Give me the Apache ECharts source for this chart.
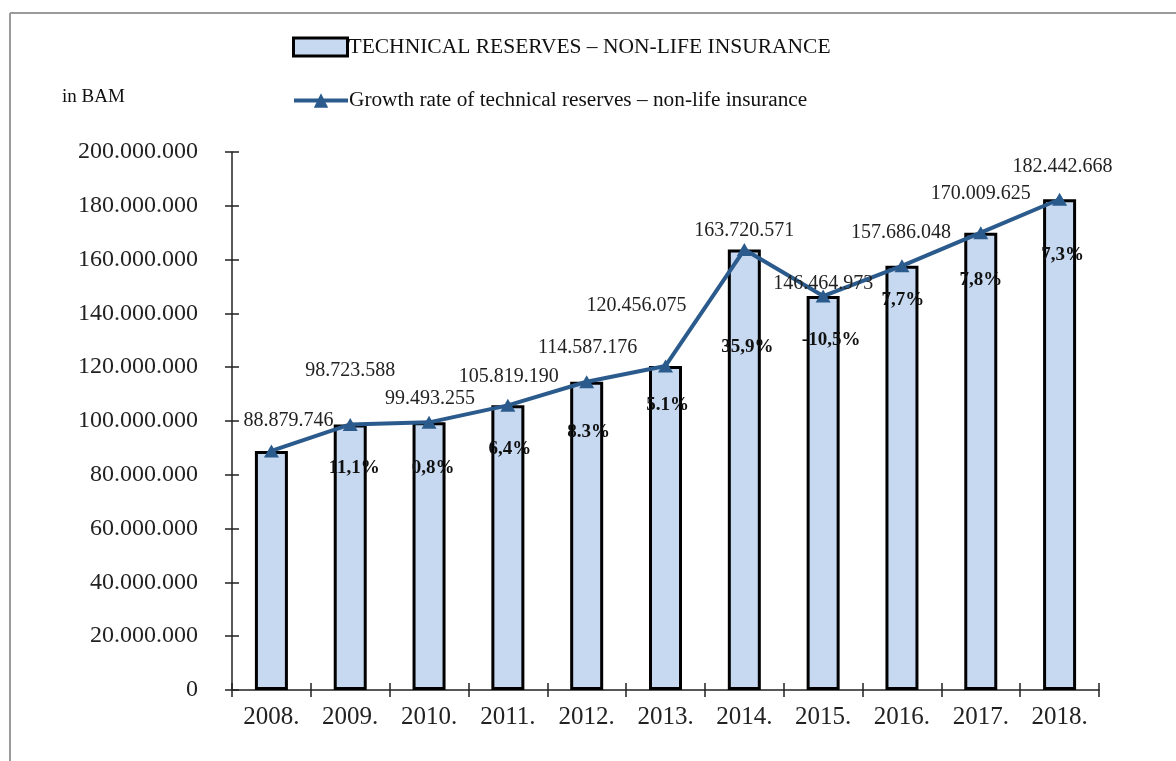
<!DOCTYPE html>
<html>
<head>
<meta charset="utf-8">
<script src="https://cdn.jsdelivr.net/npm/echarts@6/dist/echarts.min.js"></script>
<style>
  html, body { margin: 0; padding: 0; background: #fff; }
  #chart { width: 1176px; height: 761px; }
</style>
</head>
<body>
<div id="chart"></div>
<script>
// Non-life technical reserves, in BAM
const years = ['2008.', '2009.', '2010.', '2011.', '2012.', '2013.', '2014.', '2015.', '2016.', '2017.', '2018.'];
const reserves = [88879746, 98723588, 99493255, 105819190, 114587176, 120456075, 163720571, 146464973, 157686048, 170009625, 182442668];
const growthLabels = ['', '11,1%', '0,8%', '6,4%', '8.3%', '5.1%', '35,9%', '-10,5%', '7,7%', '7,8%', '7,3%'];

const barName = 'TECHNICAL RESERVES – NON-LIFE INSURANCE';
const lineName = 'Growth rate of technical reserves – non-life insurance';

// label placement tweaks (pixels)
const valueLabelShift = [[17, -30], [0, -54], [1, -24], [1, -29], [1, -34], [-29, -60], [0, -19], [0, -12], [-1, -33], [0, -39], [3, -32]];
const growthLabelShift = [[0, 0], [4, 44], [4, 46], [2, 44], [2, 50], [2, 39], [3, 98], [8, 44], [1, 34], [0, 47], [3, 56]];

const FONT = '"Liberation Serif", "Times New Roman", serif';
const TEXT = '#222';
const LINE = '#2B5B8C';

function dots(v) {
  return String(v).replace(/\B(?=(\d{3})+(?!\d))/g, '.');
}

const chart = echarts.init(document.getElementById('chart'));

const valueAxisBase = {
  type: 'value',
  min: 0,
  max: 200000000,
  interval: 20000000,
  position: 'left',
  splitLine: { show: false }
};
const catAxisBase = {
  type: 'category',
  data: years,
  position: 'bottom',
  boundaryGap: true
};

chart.setOption({
  animation: false,
  backgroundColor: '#fff',
  textStyle: { fontFamily: FONT },
  grid: { left: 232, right: 77, top: 152, bottom: 71, containLabel: false },
  legend: [
    {
      data: [{ name: barName, icon: 'rect' }],
      left: 287, top: 31,
      itemWidth: 54, itemHeight: 18,
      itemGap: 0,
      itemStyle: { color: '#C6D9F1', borderColor: '#000', borderWidth: 3 },
      textStyle: { fontFamily: FONT, fontSize: 21.5, color: '#111', padding: [0, 0, 0, -4] },
      selectedMode: false
    },
    {
      data: [lineName],
      left: 287, top: 85,
      itemWidth: 54, itemHeight: 18,
      lineStyle: { width: 4, color: LINE },
      textStyle: { fontFamily: FONT, fontSize: 21.3, color: '#111', padding: [0, 0, 0, -4] },
      selectedMode: false
    }
  ],
  xAxis: [
    Object.assign({}, catAxisBase, {
      axisLine: { lineStyle: { color: '#222', width: 1.5 } },
      axisTick: { show: true, length: 7, inside: false, lineStyle: { color: '#222', width: 1.5 } },
      axisLabel: { fontFamily: FONT, fontSize: 25, color: TEXT, margin: 15 }
    }),
    Object.assign({}, catAxisBase, {
      axisLine: { show: false },
      axisTick: { show: true, length: 7, inside: true, lineStyle: { color: '#222', width: 1.5 } },
      axisLabel: { show: false }
    })
  ],
  yAxis: [
    Object.assign({}, valueAxisBase, {
      axisLine: { show: true, lineStyle: { color: '#222', width: 1.5 } },
      axisTick: { show: true, length: 7, inside: false, lineStyle: { color: '#222', width: 1.5 } },
      axisLabel: { fontFamily: FONT, fontSize: 24, color: TEXT, margin: 34, formatter: v => dots(v) }
    }),
    Object.assign({}, valueAxisBase, {
      axisLine: { show: false },
      axisTick: { show: true, length: 7, inside: true, lineStyle: { color: '#222', width: 1.5 } },
      axisLabel: { show: false }
    })
  ],
  series: [
    {
      name: barName,
      type: 'bar',
      xAxisIndex: 0,
      yAxisIndex: 0,
      barWidth: 33,
      itemStyle: { color: '#C6D9F1', borderColor: '#000', borderWidth: 3 },
      data: reserves.map((v, i) => ({
        value: v,
        label: {
          show: growthLabels[i] !== '',
          formatter: growthLabels[i],
          position: ['50%', growthLabelShift[i][1]],
          offset: [growthLabelShift[i][0], 0],
          align: 'center',
          verticalAlign: 'middle',
          fontFamily: FONT,
          fontSize: 19,
          fontWeight: 'bold',
          color: '#111'
        }
      })),
      z: 2
    },
    {
      name: lineName,
      type: 'line',
      xAxisIndex: 0,
      yAxisIndex: 0,
      symbol: 'triangle',
      symbolSize: [15, 13],
      lineStyle: { color: LINE, width: 4 },
      itemStyle: { color: LINE },
      data: reserves.map((v, i) => ({
        value: v,
        label: {
          show: true,
          formatter: dots(v),
          position: 'inside',
          offset: valueLabelShift[i],
          align: 'center',
          verticalAlign: 'middle',
          fontFamily: FONT,
          fontSize: 20,
          color: TEXT
        }
      })),
      z: 3
    }
  ],
  graphic: [
    { type: 'line', shape: { x1: 10, y1: 13, x2: 1176, y2: 13 }, style: { stroke: '#9a9a9a', lineWidth: 2 } },
    { type: 'line', shape: { x1: 10, y1: 13, x2: 10, y2: 761 }, style: { stroke: '#9a9a9a', lineWidth: 2 } },
    { type: 'text', left: 62, top: 88, style: { text: 'in BAM', font: '19px ' + FONT, fill: '#111' } }
  ]
});
</script>
</body>
</html>
